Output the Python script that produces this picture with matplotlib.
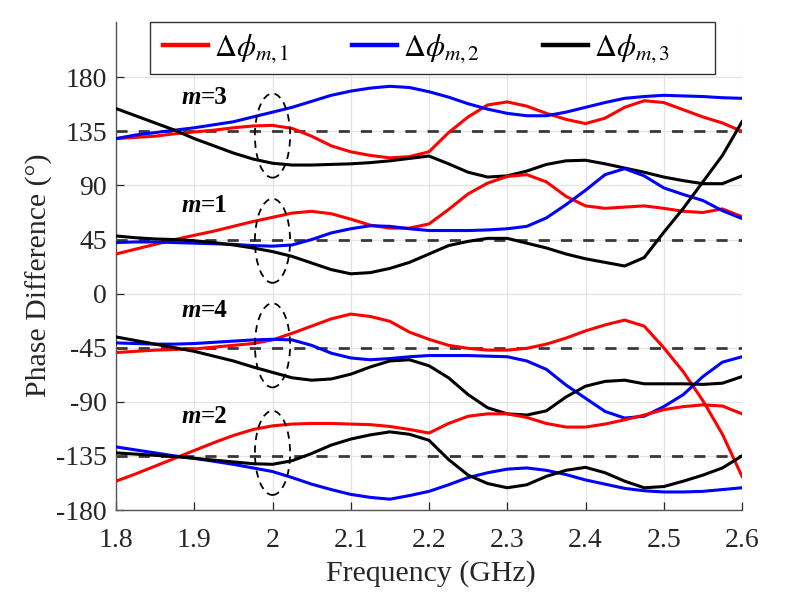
import matplotlib
matplotlib.use('Agg')
import matplotlib.pyplot as plt
from matplotlib.patches import Ellipse, Rectangle

plt.rcParams['font.family'] = ['Liberation Serif', 'DejaVu Serif']
plt.rcParams['mathtext.fontset'] = 'stix'

# ---------------- data ----------------
freq = [1.8, 1.825, 1.85, 1.875, 1.9, 1.925, 1.95, 1.975, 2.0, 2.025, 2.05, 2.075,
        2.1, 2.125, 2.15, 2.175, 2.2, 2.225, 2.25, 2.275, 2.3, 2.325, 2.35, 2.375,
        2.4, 2.425, 2.45, 2.475, 2.5, 2.525, 2.55, 2.575, 2.6]

# m = 3
red_m3 = [129, 130, 131, 133, 134.5, 136, 138, 139.5, 140, 137.5, 131, 123,
          118, 115, 113, 114, 118, 134, 147, 157, 159.5, 156, 150, 145,
          141.5, 146, 155, 160.5, 159, 153, 147, 142, 135]
blue_m3 = [129, 132, 134, 136, 138, 140.5, 143, 147, 151, 155, 160, 165,
           168.5, 171, 172.5, 171.5, 168, 163.5, 158, 153.5, 150, 148, 148, 151,
           155, 159, 162.5, 164, 165, 164.5, 164, 163, 162.5]
black_m3 = [154, 148, 142, 136, 129, 123, 117, 112, 108.5, 107, 107, 107.5,
            108, 109, 110.5, 112.5, 114.5, 108, 101, 97, 98, 102, 107.5, 110.5,
            111, 108, 104.5, 101, 97, 94, 91.5, 91.5, 98]
# m = 1
red_m1 = [33, 37, 41, 45, 48.5, 52, 56, 60, 63.5, 67, 68.5, 66.5,
          62, 57, 54.5, 54.5, 58, 70, 83, 92, 97.5, 99, 93, 81,
          73, 71, 72, 73, 71, 68.5, 67.5, 70.5, 64]
blue_m1 = [42.5, 43, 43, 42.5, 42, 41.5, 41, 40, 39.5, 40.5, 45, 50.5,
           54, 56.5, 56, 54, 52.5, 52.5, 52.5, 53, 54, 56, 63, 74,
           86, 99, 104, 98, 88, 82.5, 77.5, 69, 62.5]
black_m1 = [48, 46.5, 45.5, 45, 44, 42.5, 40.5, 38, 35, 31, 25.5, 20,
            16.5, 17.5, 21, 26, 33, 40, 43.5, 46, 46, 42, 38, 33,
            29, 26, 23, 30, 51, 71, 93, 115, 143]
# m = 4
red_m4 = [-49, -48, -47, -46.5, -46, -44.5, -43, -41.5, -38.5, -33, -27, -21,
          -17, -19, -23, -32, -38, -43, -45.5, -47, -47, -45.5, -42, -37,
          -31, -26, -22, -27, -45, -65, -89, -117, -152]
blue_m4 = [-41, -41.5, -42, -42, -41.5, -40.5, -39.5, -38.5, -38, -38.5, -43, -49.5,
           -53.5, -55, -54, -52.5, -51.5, -51.5, -51.5, -52, -52.5, -56, -63, -76,
           -87, -98, -103.5, -102, -94, -84, -69, -57, -52.5]
black_m4 = [-36, -39, -42, -45, -48, -52, -56, -61, -65.5, -70, -72, -71,
            -67, -61, -56, -55, -60, -70, -84, -95, -100, -101, -97.5, -86,
            -77, -73, -72, -75, -75, -75, -75.5, -74.5, -69]
# m = 2
red_m2 = [-156, -150, -143.5, -137, -130.5, -124, -118, -113, -110, -108.5, -108, -108,
          -108.5, -109, -110.5, -113, -116, -108, -102, -100, -100, -103, -108, -111,
          -111, -108.5, -105, -101, -96.5, -94, -92.5, -93.5, -100]
blue_m2 = [-127.5, -130, -132.5, -135, -137, -139.5, -142, -145, -148, -153, -158.5, -163,
           -167, -169.5, -171, -168, -164.5, -159, -153, -149, -146, -145, -147, -150.5,
           -155, -158.5, -162, -164, -165, -165, -164.5, -163, -161.5]
black_m2 = [-132.5, -133.5, -134.5, -135.5, -137, -138.5, -140, -141.5, -142, -139, -133, -126,
            -121, -117.5, -115, -117, -122, -138, -151, -158, -161.5, -159, -152, -147,
            -144.5, -149, -156, -161.5, -160.5, -156, -151, -145, -135]

ideal_levels = [135, 45, -45, -135]
mode_names = ['m=3', 'm=1', 'm=4', 'm=2']
mode_label_y = [163, 73, -14, -102]
ellipse_y = [131.5, 44, -43, -132.5]

x_ticks = [1.8, 1.9, 2.0, 2.1, 2.2, 2.3, 2.4, 2.5, 2.6]
x_tick_labels = ['1.8', '1.9', '2', '2.1', '2.2', '2.3', '2.4', '2.5', '2.6']
y_ticks = [-180, -135, -90, -45, 0, 45, 90, 135, 180]
y_tick_labels = ['-180', '-135', '-90', '-45', '0', '45', '90', '135', '180']

legend_labels = ['$\\Delta\\phi_{m,1}$', '$\\Delta\\phi_{m,2}$', '$\\Delta\\phi_{m,3}$']

# ---------------- figure ----------------
W, H = 800, 592
fig = plt.figure(figsize=(8, 5.92), dpi=100)
ax = fig.add_axes([116 / W, 1 - 510 / H, 626 / W, 488 / H])
ax.set_xlim(1.8, 2.6)
ax.set_ylim(-180, 226)

axis_col = '#262626'
ax.grid(True, color='#e3e3e3', lw=0.9)
ax.set_axisbelow(True)

for lvl in ideal_levels:
    ax.axhline(lvl, color='#383838', lw=2.0, dashes=(4, 4), zorder=2)

lw = 2.2
groups = [(red_m3, blue_m3, black_m3), (red_m1, blue_m1, black_m1),
          (red_m4, blue_m4, black_m4), (red_m2, blue_m2, black_m2)]
handles = []
for gi, (r, b, k) in enumerate(groups):
    hr, = ax.plot(freq, r, color='#ff0000', lw=lw, zorder=3)
    hb, = ax.plot(freq, b, color='#0000ff', lw=lw, zorder=3)
    hk, = ax.plot(freq, k, color='black', lw=lw, zorder=3)
    if gi == 0:
        handles = [hr, hb, hk]

for cy in ellipse_y:
    e = Ellipse((2.0, cy), width=0.045, height=70, fill=False, edgecolor='black',
                lw=1.3, linestyle=(0, (4, 3)), zorder=4)
    ax.add_patch(e)

for name, yv in zip(mode_names, mode_label_y):
    m, rest = name.split('=')
    t = ax.text(1.884, yv, m, fontsize=18, fontweight='bold', fontstyle='italic',
                va='center', ha='left', zorder=5)
    ax.annotate('=' + rest, xycoords=t, xy=(1, 0.5), va='center', ha='left',
                fontsize=18, fontweight='bold', zorder=5)

ax.set_xticks(x_ticks)
ax.set_xticklabels(x_tick_labels)
ax.set_yticks(y_ticks)
ax.set_yticklabels(y_tick_labels)
ax.tick_params(direction='in', length=6, width=0.9, colors=axis_col, labelsize=20)
ax.tick_params(axis='x', pad=13)
ax.tick_params(axis='y', pad=6.5)
for s in ['top', 'right']:
    ax.spines[s].set_visible(False)
for s in ['left', 'bottom']:
    ax.spines[s].set_color('#555555')
    ax.spines[s].set_linewidth(1.0)

ax.set_xlabel('Frequency (GHz)', fontsize=21.5, color=axis_col)
ax.xaxis.set_label_coords(0.503, -0.102)
ax.set_ylabel('Phase Difference (\u00b0)', fontsize=21.5, color=axis_col)
ax.yaxis.set_label_coords(-0.100, 0.482)

# legend frame + entries
frame = Rectangle((150 / W, 1 - 74 / H), 565 / W, 52 / H, transform=fig.transFigure,
                  facecolor='white', edgecolor='#333333', lw=1.0, zorder=4)
fig.add_artist(frame)
leg = fig.legend(handles, legend_labels, loc='center left',
                 bbox_to_anchor=(163 / W, 1 - 49 / H), ncol=3, fontsize=22,
                 handlelength=1.47, handletextpad=0.2, columnspacing=2.05,
                 borderpad=0.0, borderaxespad=0.0, frameon=False)
leg.set_zorder(5)
for ln in leg.get_lines():
    ln.set_linewidth(3.2)

fig.savefig('out.png', dpi=100)
